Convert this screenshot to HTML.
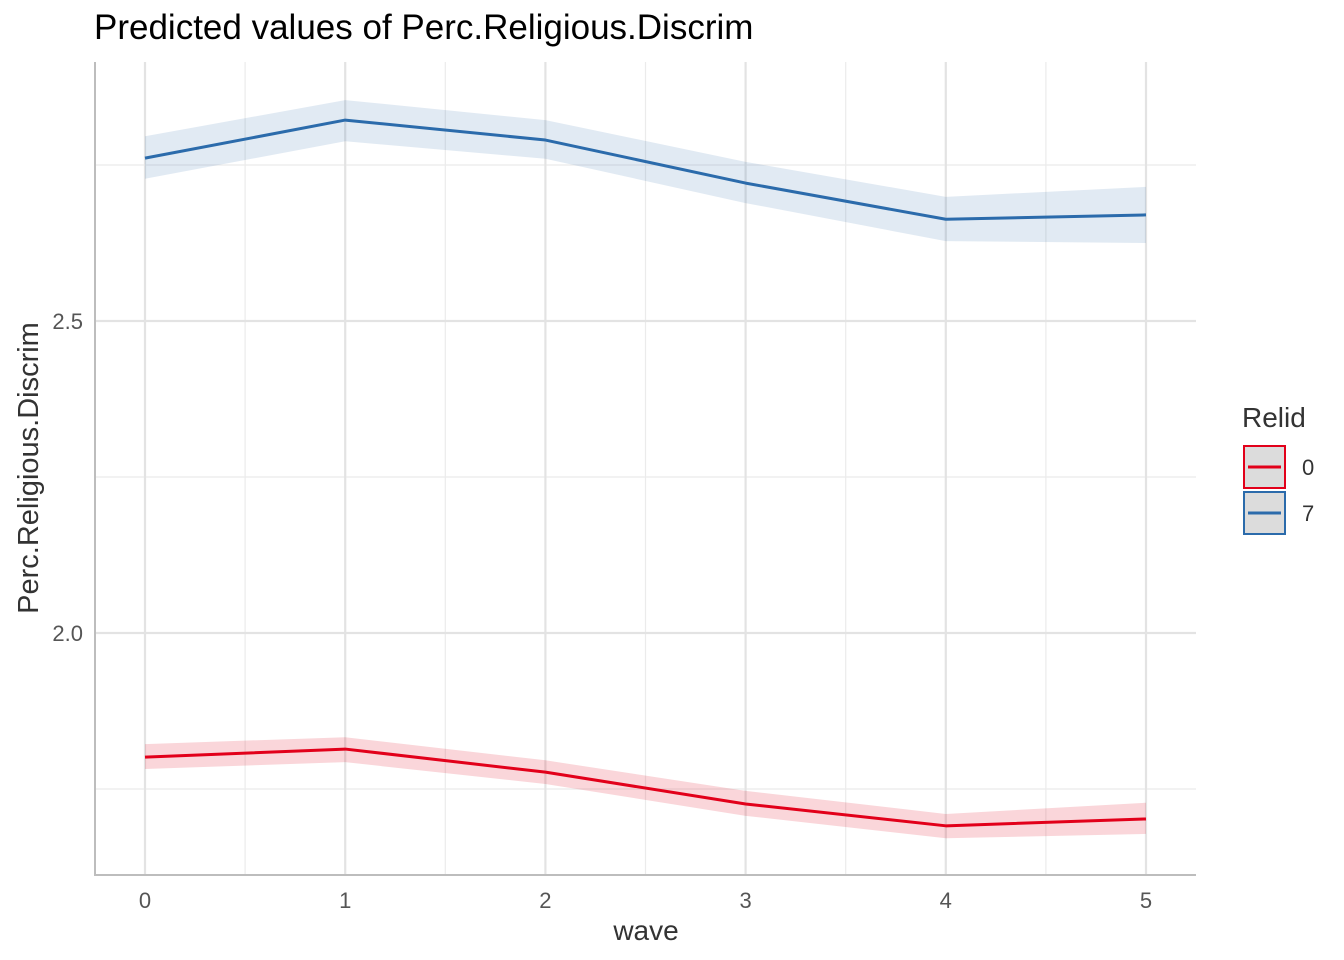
<!DOCTYPE html>
<html><head><meta charset="utf-8"><style>
body{margin:0;background:#fff}
svg{display:block;font-family:"Liberation Sans",Arial,sans-serif}
</style></head><body>
<svg id="chart" width="1344" height="960">
<text x="94" y="39" font-size="35" fill="#000">Predicted values of Perc.Religious.Discrim</text>
<g id="grid"></g>
<g id="bands"></g>
<g id="lines"></g>
<g id="axes"></g>
<text x="646" y="940" font-size="28" fill="#333" text-anchor="middle">wave</text>
<text transform="translate(38,468) rotate(-90)" font-size="29" fill="#333" text-anchor="middle">Perc.Religious.Discrim</text>
<g>
<text x="1242" y="427" font-size="28" fill="#333">Relid</text>
<g>
<rect x="1244" y="446" width="41" height="42" fill="#dcdcdc" stroke="#e2001a" stroke-width="2"/>
<line x1="1248" y1="467" x2="1281" y2="467" stroke="#e2001a" stroke-width="3"/>
<text x="1302" y="475" font-size="22" fill="#333">0</text></g>
<g>
<rect x="1244" y="492" width="41" height="42" fill="#dcdcdc" stroke="#2b6bab" stroke-width="2"/>
<line x1="1248" y1="513" x2="1281" y2="513" stroke="#2b6bab" stroke-width="3"/>
<text x="1302" y="521" font-size="22" fill="#333">7</text></g>
</g>
</svg>
<script>
const waves=[0,1,2,3,4,5];
const fit0=[1.801,1.814,1.777,1.726,1.691,1.702];
const lo0=[1.782,1.793,1.758,1.707,1.671,1.678];
const hi0=[1.822,1.833,1.796,1.747,1.710,1.728];
const fit7=[2.761,2.822,2.790,2.721,2.663,2.670];
const lo7=[2.728,2.788,2.760,2.689,2.628,2.625];
const hi7=[2.796,2.854,2.822,2.755,2.699,2.715];
const yTicks=[2.0,2.5];
const yTickLabels=["2.0","2.5"];
const yMinor=[1.75,2.25,2.75];
const xTickLabels=["0","1","2","3","4","5"];
const NS="http://www.w3.org/2000/svg";
const X=v=>145+v*200.2;
const Y=v=>633-(v-2.0)*624;
const L=95,R=1196,T=62,B=875;
function mk(p,tag,a){const e=document.createElementNS(NS,tag);for(const k in a)e.setAttribute(k,a[k]);document.getElementById(p).appendChild(e);return e;}
for(const v of yMinor){const e=mk('grid','line',{x1:L,x2:R,y1:Y(v),y2:Y(v),stroke:'#ebebeb','stroke-width':1.2});

}
for(let i=0;i<waves.length-1;i++){const xv=(waves[i]+waves[i+1])/2;const e=mk('grid','line',{x1:X(xv),x2:X(xv),y1:T,y2:B,stroke:'#ebebeb','stroke-width':1.2});

}
yTicks.forEach((v,i)=>{const e=mk('grid','line',{x1:L,x2:R,y1:Y(v),y2:Y(v),stroke:'#e3e3e3','stroke-width':2.2});


const t=mk('axes','text',{x:83,y:Y(v)+8,'font-size':22,fill:'#555','text-anchor':'end'});t.textContent=yTickLabels[i];

});
waves.forEach((w,i)=>{const e=mk('grid','line',{x1:X(w),x2:X(w),y1:T,y2:B,stroke:'#e3e3e3','stroke-width':2.2});


const t=mk('axes','text',{x:X(w),y:908,'font-size':22,fill:'#555','text-anchor':'middle'});t.textContent=xTickLabels[i];

});
const ax=mk('axes','path',{d:`M${L} ${T}V${B}H${R}`,fill:'none',stroke:'#bdbdbd','stroke-width':2});


function band(lo,hi,col,name){const pts=waves.map((w,i)=>X(w)+','+Y(hi[i])).concat(waves.map((w,i)=>X(w)+','+Y(lo[i])).reverse());
const e=mk('bands','polygon',{points:pts.join(' '),fill:col});

}
function line(f,col,name){const e=mk('lines','polyline',{points:waves.map((w,i)=>X(w)+','+Y(f[i])).join(' '),fill:'none',stroke:col,'stroke-width':3,'stroke-linejoin':'round'});

}
band(lo0,hi0,'rgba(226,0,26,0.16)','ci-band-relid-0');
band(lo7,hi7,'rgba(43,107,171,0.14)','ci-band-relid-7');
line(fit0,'#e2001a','line-relid-0');
line(fit7,'#2b6bab','line-relid-7');
</script>
</body></html>
